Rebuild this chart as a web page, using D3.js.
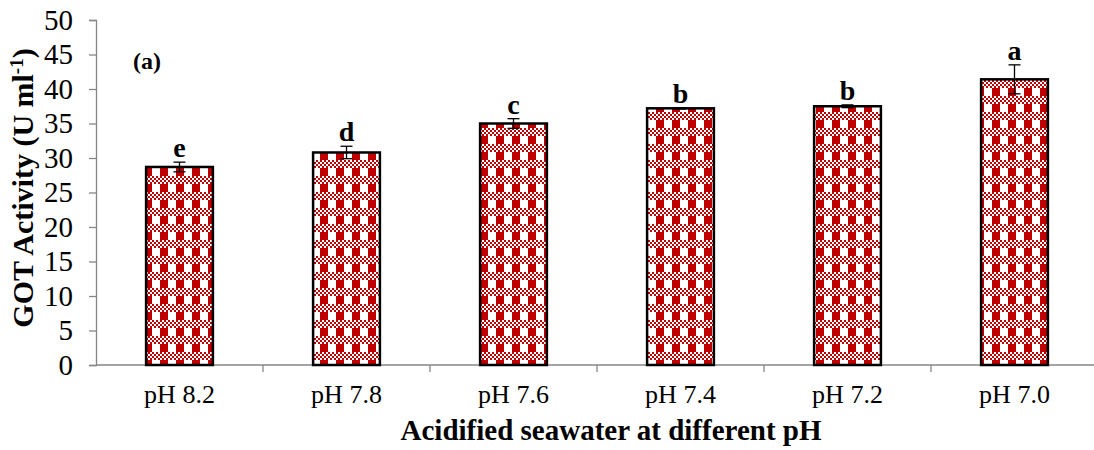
<!DOCTYPE html>
<html>
<head>
<meta charset="utf-8">
<script src="https://cdn.jsdelivr.net/npm/d3@7"></script>
<style>
  html, body { margin: 0; padding: 0; background: #fff; }
</style>
</head>
<body>
<svg id="chart" width="1094" height="450"></svg>
<script>
// GOT activity by seawater pH treatment
const categories = ["pH 8.2", "pH 7.8", "pH 7.6", "pH 7.4", "pH 7.2", "pH 7.0"];
const means      = [28.7, 30.8, 35.0, 37.2, 37.5, 41.4];
const errors     = [0.7, 0.9, 0.7, 0.1, 0.2, 2.1];
const letters    = ["e", "d", "c", "b", "b", "a"];
const yTicks     = [0, 5, 10, 15, 20, 25, 30, 35, 40, 45, 50];

const FONT = "'Times New Roman', 'Liberation Serif', Times, serif";

const svg = d3.select("#chart");
const margin = { left: 96, top: 20, bottom: 85 };
const bandW = 167;
const plotW = bandW * categories.length;
const plotH = 450 - margin.top - margin.bottom;

// plaid fill: checker band over alternating red/white columns
const defs = svg.append("defs");
const pat = defs.append("pattern")
  .attr("id", "plaid")
  .attr("patternUnits", "userSpaceOnUse")
  .attr("width", 16).attr("height", 16);
pat.append("rect").attr("width", 16).attr("height", 16).attr("fill", "#fff");
for (let r = 0; r < 4; r++) {
  for (let c = 0; c < 8; c++) {
    if ((r + c) % 2 === 0) {
      pat.append("rect").attr("x", c * 2).attr("y", r * 2)
        .attr("width", 2).attr("height", 2).attr("fill", "#C00000");
    }
  }
}
pat.append("rect").attr("x", 0).attr("y", 8).attr("width", 8).attr("height", 8).attr("fill", "#C00000");

const x = d3.scaleBand().domain(categories)
  .range([margin.left, margin.left + plotW]).paddingInner(0.6).paddingOuter(0.3);
const y = d3.scaleLinear().domain([0, 50]).range([margin.top + plotH, margin.top]);

// y axis
const yAxis = svg.append("g")
  .attr("transform", `translate(${margin.left},0)`)
  .call(d3.axisLeft(y).tickValues(yTicks).tickSize(7).tickPadding(16));
yAxis.attr("font-family", null).attr("font-size", null);
yAxis.select(".domain").attr("stroke", "#868686").attr("stroke-width", 1.3);
yAxis.selectAll(".tick line").attr("stroke", "#868686").attr("stroke-width", 1.3);
yAxis.selectAll(".tick text")
  .style("font-family", FONT)
  .style("font-size", "29px").attr("fill", "#000");

// x axis with ticks at category boundaries
const xAxisG = svg.append("g").attr("transform", `translate(0,${y(0)})`);
xAxisG.append("line")
  .attr("x1", margin.left).attr("x2", margin.left + plotW)
  .attr("stroke", "#868686").attr("stroke-width", 1.3);
xAxisG.selectAll(".bt").data(d3.range(1, categories.length + 1)).enter()
  .append("line")
  .attr("x1", i => margin.left + i * x.step()).attr("x2", i => margin.left + i * x.step())
  .attr("y1", 0).attr("y2", 7)
  .attr("stroke", "#868686").attr("stroke-width", 1.3);
xAxisG.selectAll(".cat").data(categories).enter()
  .append("text")
  .attr("x", d => x(d) + x.bandwidth() / 2)
  .attr("y", 38)
  .attr("text-anchor", "middle")
  .style("font-family", FONT)
  .style("font-size", "26px")
  .text(d => d);

// bars
const rows = categories.map((c, i) => ({ c, m: means[i], e: errors[i], l: letters[i] }));
svg.selectAll(".bar").data(rows).enter()
  .append("rect")
  .attr("x", d => x(d.c))
  .attr("y", d => y(d.m))
  .attr("width", x.bandwidth())
  .attr("height", d => y(0) - y(d.m))
  .attr("fill", "url(#plaid)")
  .attr("stroke", "#000").attr("stroke-width", 2.5);

// error bars
const cx = d => x(d.c) + x.bandwidth() / 2;
const eb = svg.selectAll(".err").data(rows).enter().append("g");
eb.append("line")
  .attr("x1", cx).attr("x2", cx)
  .attr("y1", d => y(d.m + d.e)).attr("y2", d => y(d.m - d.e))
  .attr("stroke", "#000").attr("stroke-width", 1.3);
eb.append("line")
  .attr("x1", d => cx(d) - 6).attr("x2", d => cx(d) + 6)
  .attr("y1", d => y(d.m + d.e)).attr("y2", d => y(d.m + d.e))
  .attr("stroke", "#000").attr("stroke-width", 1.3);
eb.append("line")
  .attr("x1", d => cx(d) - 6).attr("x2", d => cx(d) + 6)
  .attr("y1", d => y(d.m - d.e)).attr("y2", d => y(d.m - d.e))
  .attr("stroke", "#000").attr("stroke-width", 1.3);

// significance letters
svg.selectAll(".sig").data(rows).enter()
  .append("text")
  .attr("x", cx)
  .attr("y", d => y(d.m + d.e) - 5)
  .attr("text-anchor", "middle")
  .style("font-family", FONT)
  .style("font-size", "28px").style("font-weight", "bold")
  .text(d => d.l);

// panel label
svg.append("text").attr("x", 133).attr("y", 69)
  .style("font-family", FONT)
  .style("font-size", "24px").style("font-weight", "bold").text("(a)");

// axis titles
svg.append("text")
  .attr("x", 611).attr("y", 440)
  .attr("text-anchor", "middle")
  .style("font-family", FONT)
  .style("font-size", "29px").style("font-weight", "bold")
  .text("Acidified seawater at different pH");

const yt = svg.append("text")
  .attr("transform", `translate(33,188) rotate(-90)`)
  .attr("text-anchor", "middle")
  .style("font-family", FONT)
  .style("font-size", "30px").style("font-weight", "bold");
yt.append("tspan").text("GOT Activity (U ml");
yt.append("tspan").attr("dy", -10).style("font-size", "19px").text("-1");
yt.append("tspan").attr("dy", 10).text(")");
</script>
</body>
</html>
